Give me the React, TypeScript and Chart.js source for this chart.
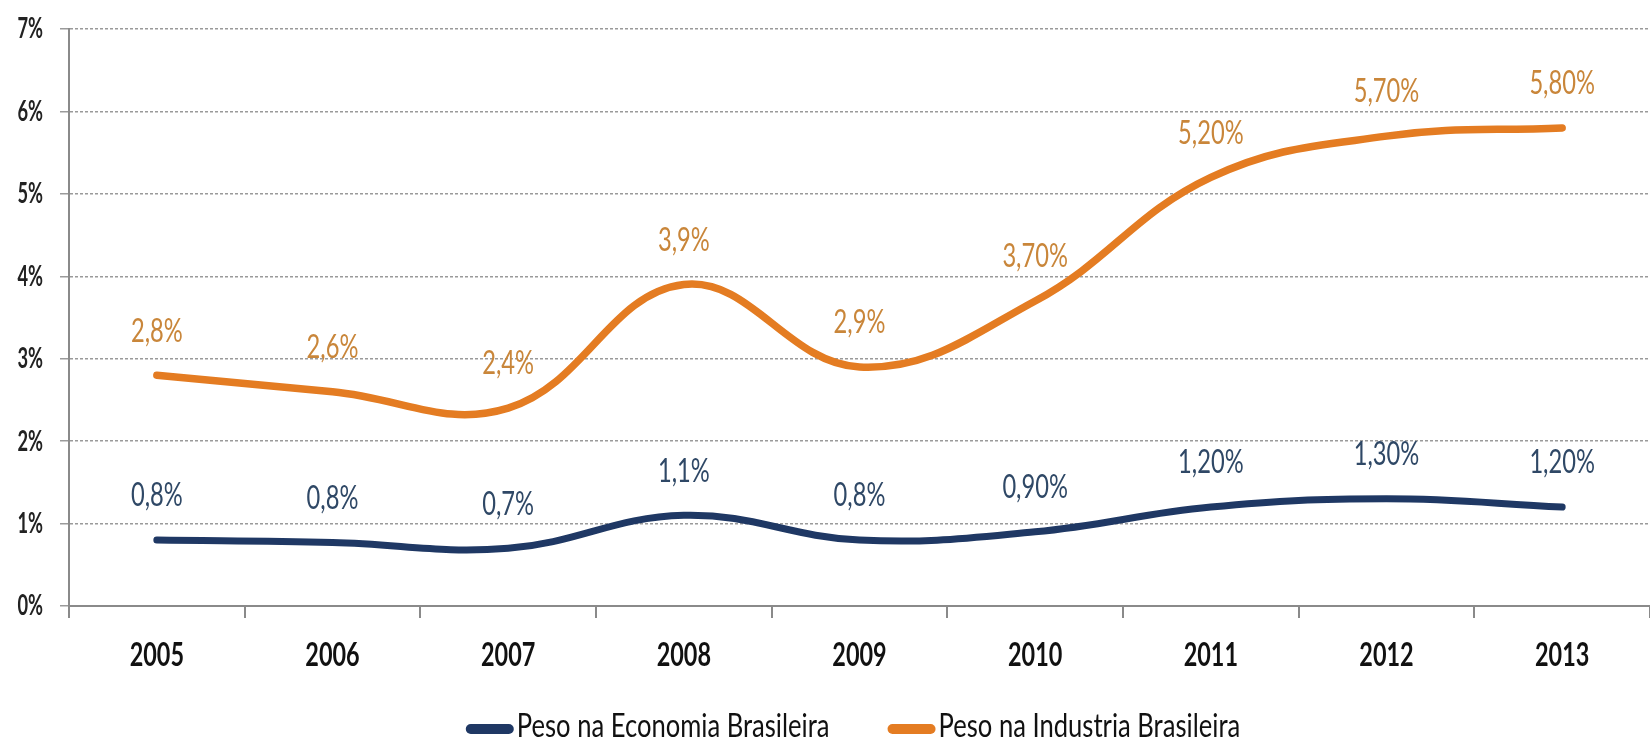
import React, { useEffect, useRef } from "react";
import { Chart, registerables } from "chart.js";

Chart.register(...registerables);

const years = ["2005", "2006", "2007", "2008", "2009", "2010", "2011", "2012", "2013"];
const economiaValues = [0.8, 0.77, 0.7, 1.1, 0.8, 0.9, 1.2, 1.3, 1.2];
const industriaValues = [2.8, 2.6, 2.4, 3.9, 2.9, 3.7, 5.2, 5.7, 5.8];
const economiaLabels = ["0,8%", "0,8%", "0,7%", "1,1%", "0,8%", "0,90%", "1,20%", "1,30%", "1,20%"];
const industriaLabels = ["2,8%", "2,6%", "2,4%", "3,9%", "2,9%", "3,70%", "5,20%", "5,70%", "5,80%"];
const seriesNames = ["Peso na Economia Brasileira", "Peso na Industria Brasileira"];
const yMin = 0;
const yMax = 7;
const yStep = 1;

const FONT = "Lato, 'Open Sans', 'DejaVu Sans', sans-serif";
const NAVY = "#1f3864";
const ORANGE = "#e47c22";
const NAVY_TEXT = "#2f4866";
const ORANGE_TEXT = "#c9863a";

// draw text compressed horizontally (the reference's lettering is tall and narrow)
function drawText(ctx: CanvasRenderingContext2D, text: string, x: number, y: number, font: string, color: string, align: CanvasTextAlign, sx: number) {
  ctx.save();
  ctx.font = font;
  ctx.fillStyle = color;
  ctx.textAlign = align;
  ctx.textBaseline = "middle";
  ctx.translate(x, y);
  ctx.scale(sx, 1);
  ctx.fillText(text, 0, 0);
  ctx.restore();
}

const axisLabelPlugin = {
  id: "axisLabels",
  afterDraw(chart: any) {
    const ctx = chart.ctx;
    const xs = chart.scales.x;
    const ys = chart.scales.y;
    xs.ticks.forEach((t: any, i: number) => {
      const px = xs.getPixelForTick(i);
      drawText(ctx, String(chart.data.labels[i]), px, 655, `bold 33px ${FONT}`, "#111", "center", 0.71);
    });
    ys.ticks.forEach((t: any) => {
      const py = ys.getPixelForValue(t.value);
      drawText(ctx, `${t.value}%`, 43, py, `bold 29px ${FONT}`, "#222", "right", 0.63);
    });
  },
};

const valueLabelPlugin = {
  id: "valueLabels",
  afterDatasetsDraw(chart: any) {
    const ctx = chart.ctx;
    chart.data.datasets.forEach((ds: any, di: number) => {
      const meta = chart.getDatasetMeta(di);
      meta.data.forEach((pt: any, i: number) => {
        drawText(ctx, ds.valueLabels[i], pt.x, pt.y - 44, `32px ${FONT}`, ds.labelColor, "center", 0.74);
      });
    });
  },
};

const legendPlugin = {
  id: "customLegend",
  afterDraw(chart: any) {
    const ctx = chart.ctx;
    const sx = 0.8;
    const font = `32px ${FONT}`;
    ctx.save();
    ctx.font = font;
    const markerW = 48;
    const gap = 3;
    const itemGap = 58;
    const items = chart.data.datasets.map((ds: any) => ({
      text: ds.label,
      color: ds.borderColor,
      tw: ctx.measureText(ds.label).width * sx,
    }));
    ctx.restore();
    const total = items.reduce((s: number, it: any) => s + markerW + gap + it.tw, 0) + itemGap * (items.length - 1);
    let x = 853 - total / 2;
    const y = 727;
    items.forEach((it: any) => {
      ctx.save();
      ctx.strokeStyle = it.color;
      ctx.lineWidth = 10;
      ctx.lineCap = "round";
      ctx.beginPath();
      ctx.moveTo(x + 5, y + 2);
      ctx.lineTo(x + markerW - 5, y + 2);
      ctx.stroke();
      ctx.restore();
      drawText(ctx, it.text, x + markerW + gap, y, font, "#111", "left", sx);
      x += markerW + gap + it.tw + itemGap;
    });
  },
};

export default function App() {
  const canvasRef = useRef<HTMLCanvasElement | null>(null);

  useEffect(() => {
    if (!canvasRef.current) return;
    const chart = new Chart(canvasRef.current, {
      type: "line",
      data: {
        labels: years,
        datasets: [
          {
            label: seriesNames[0],
            data: economiaValues,
            borderColor: NAVY,
            backgroundColor: NAVY,
            borderWidth: 7,
            tension: 0.4,
            pointRadius: 0,
            borderCapStyle: "round",
            fill: false,
            valueLabels: economiaLabels,
            labelColor: NAVY_TEXT,
          } as any,
          {
            label: seriesNames[1],
            data: industriaValues,
            borderColor: ORANGE,
            backgroundColor: ORANGE,
            borderWidth: 7.5,
            tension: 0.4,
            pointRadius: 0,
            borderCapStyle: "round",
            fill: false,
            valueLabels: industriaLabels,
            labelColor: ORANGE_TEXT,
          } as any,
        ],
      },
      options: {
        responsive: false,
        animation: false,
        devicePixelRatio: 1,
        layout: { padding: { top: 29, right: -23, left: 0, bottom: 34 } },
        plugins: {
          legend: { display: false },
          tooltip: { enabled: false },
        },
        scales: {
          x: {
            type: "category",
            offset: true,
            grid: {
              display: true,
              drawOnChartArea: false,
              drawTicks: true,
              tickLength: 12,
              offset: true,
              color: "#8a8a8a",
              lineWidth: 2,
            },
            border: { display: true, color: "#8a8a8a", width: 2 },
            ticks: { display: false, autoSkip: false, maxRotation: 0 },
            afterFit: (scale: any) => {
              scale.height = 104;
            },
          },
          y: {
            min: yMin,
            max: yMax,
            ticks: { display: false, stepSize: yStep },
            grid: {
              color: "#9a9a9a",
              lineWidth: 1.5,
              tickLength: 9,
              drawTicks: true,
            },
            border: { display: true, color: "#8a8a8a", width: 2, dash: [3, 2] },
            afterFit: (scale: any) => {
              scale.width = 69;
            },
          },
        },
      } as any,
      plugins: [valueLabelPlugin, axisLabelPlugin, legendPlugin],
    });
    return () => chart.destroy();
  }, []);

  return (
    <div style={{ position: "absolute", left: 0, top: 0, width: 1650, height: 744, background: "#fff" }}>
      <canvas ref={canvasRef} width={1650} height={744} style={{ display: "block" }} />
    </div>
  );
}
